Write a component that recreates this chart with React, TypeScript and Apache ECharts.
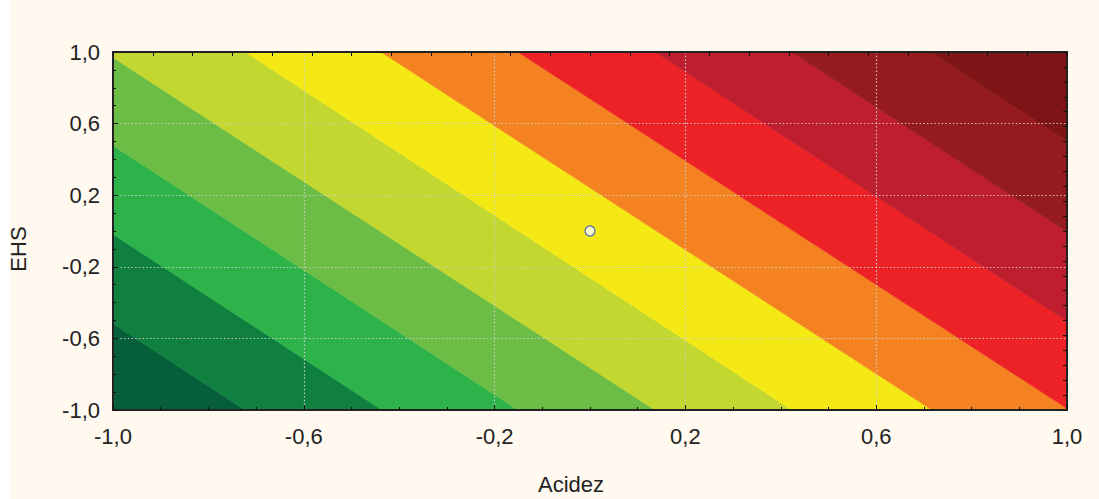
import { useEffect, useRef } from "react";
import * as echarts from "echarts";

// Fill colours of the contour bands, from the lowest level to the highest
const bandColors = [
  "#075e3b",
  "#0f803f",
  "#2db34a",
  "#6bbd45",
  "#c2d72f",
  "#f5e915",
  "#f58220",
  "#ed2227",
  "#be1e2d",
  "#951b1e",
  "#7f1416",
];

// Acidez value where each contour line between two bands meets EHS = 1,0 and EHS = -1,0
const boundaryAcidezAtTop = [-1.872, -1.585, -1.3, -1.018, -0.723, -0.438, -0.151, 0.136, 0.423, 0.715];
const boundaryAcidezAtBottom = [-0.723, -0.436, -0.151, 0.136, 0.423, 0.717, 1.005, 1.285, 1.572, 1.86];

// Centre point of the design
const centerPoint = [[0, 0]];

const axisMin = -1;
const axisMax = 1;
const majorStep = 0.4;

const FONT = "'Liberation Sans', Arial, sans-serif";
const fmt = (v: number) => (Math.abs(v) < 1e-9 ? "0,0" : v.toFixed(1).replace(".", ","));

export default function App() {
  const ref = useRef<HTMLDivElement>(null);

  useEffect(() => {
    if (!ref.current) return;
    const chart = echarts.init(ref.current, undefined, { renderer: "svg" });

    const far = 5;
    const bandData = bandColors.map((_, i) => [i]);

    const gridLine = {
      show: true,
      lineStyle: { color: "rgba(205,205,205,0.95)", width: 1.2, type: [1.5, 2.2] as number[] },
    };

    chart.setOption({
      animation: false,
      backgroundColor: "#fff9ef",
      grid: { left: 113, top: 52, width: 954, height: 358, containLabel: false },
      xAxis: [
        {
          type: "value",
          min: axisMin,
          max: axisMax,
          interval: majorStep,
          z: 10,
          axisLine: { show: true, onZero: false, lineStyle: { color: "#222", width: 2 } },
          axisTick: { show: true, inside: true, length: 5, lineStyle: { color: "#111" } },
          minorTick: { show: true, splitNumber: 4, length: 3, lineStyle: { color: "#111" } },
          splitLine: gridLine,
          axisLabel: { formatter: fmt, fontFamily: FONT, fontSize: 22, color: "#222", margin: 15 },
        },
        {
          type: "value",
          position: "top",
          min: axisMin,
          max: axisMax,
          interval: 1 / 12,
          z: 10,
          axisLine: { show: true, onZero: false, lineStyle: { color: "#222", width: 2 } },
          axisTick: { show: true, inside: true, length: 4, lineStyle: { color: "#111" } },
          splitLine: { show: false },
          axisLabel: { show: false },
        },
      ],
      yAxis: [
        {
          type: "value",
          min: axisMin,
          max: axisMax,
          interval: majorStep,
          z: 10,
          axisLine: { show: true, onZero: false, lineStyle: { color: "#222", width: 2 } },
          axisTick: { show: true, inside: true, length: 5, lineStyle: { color: "#111" } },
          minorTick: { show: true, splitNumber: 4, length: 3, lineStyle: { color: "#111" } },
          splitLine: gridLine,
          axisLabel: { formatter: fmt, fontFamily: FONT, fontSize: 22, color: "#222", margin: 13 },
        },
        {
          type: "value",
          position: "right",
          min: axisMin,
          max: axisMax,
          interval: 1 / 12,
          z: 10,
          axisLine: { show: true, onZero: false, lineStyle: { color: "#222", width: 2 } },
          axisTick: { show: true, inside: true, length: 4, lineStyle: { color: "#111" } },
          splitLine: { show: false },
          axisLabel: { show: false },
        },
      ],
      graphic: [
        { type: "rect", shape: { x: 0, y: 0, width: 10, height: 499 }, style: { fill: "#ffffff" } },
        {
          type: "text",
          x: 571,
          y: 484,
          style: {
            text: "Acidez",
            font: `22px ${FONT}`,
            fill: "#222",
            textAlign: "center",
            textVerticalAlign: "middle",
          },
        },
        {
          type: "text",
          x: 18,
          y: 249,
          rotation: Math.PI / 2,
          style: {
            text: "EHS",
            font: `22px ${FONT}`,
            fill: "#222",
            textAlign: "center",
            textVerticalAlign: "middle",
          },
        },
      ],
      series: [
        {
          type: "custom",
          xAxisIndex: 0,
          yAxisIndex: 0,
          clip: true,
          data: bandData,
          encode: { x: -1, y: -1 },
          renderItem: (params: any, api: any) => {
            const i = api.value(0) as number;
            const lt = i === 0 ? -far : boundaryAcidezAtTop[i - 1];
            const lb = i === 0 ? -far : boundaryAcidezAtBottom[i - 1];
            const rt = i === bandColors.length - 1 ? far : boundaryAcidezAtTop[i];
            const rb = i === bandColors.length - 1 ? far : boundaryAcidezAtBottom[i];
            const pts = [
              api.coord([lt, axisMax]),
              api.coord([rt, axisMax]),
              api.coord([rb, axisMin]),
              api.coord([lb, axisMin]),
            ];
            return {
              type: "polygon",
              shape: { points: pts },
              style: { fill: bandColors[i], stroke: bandColors[i], lineWidth: 0.6 },
            };
          },
          z: 2,
        },
        {
          type: "scatter",
          xAxisIndex: 0,
          yAxisIndex: 0,
          data: centerPoint,
          symbol: "circle",
          symbolSize: 10,
          itemStyle: { color: "#ffffff", borderColor: "#2f55b5", borderWidth: 1.3 },
          z: 20,
        },
      ],
    });

    return () => chart.dispose();
  }, []);

  return (
    <div
      ref={ref}
      style={{ position: "absolute", left: 0, top: 0, width: 1099, height: 499 }}
    />
  );
}
